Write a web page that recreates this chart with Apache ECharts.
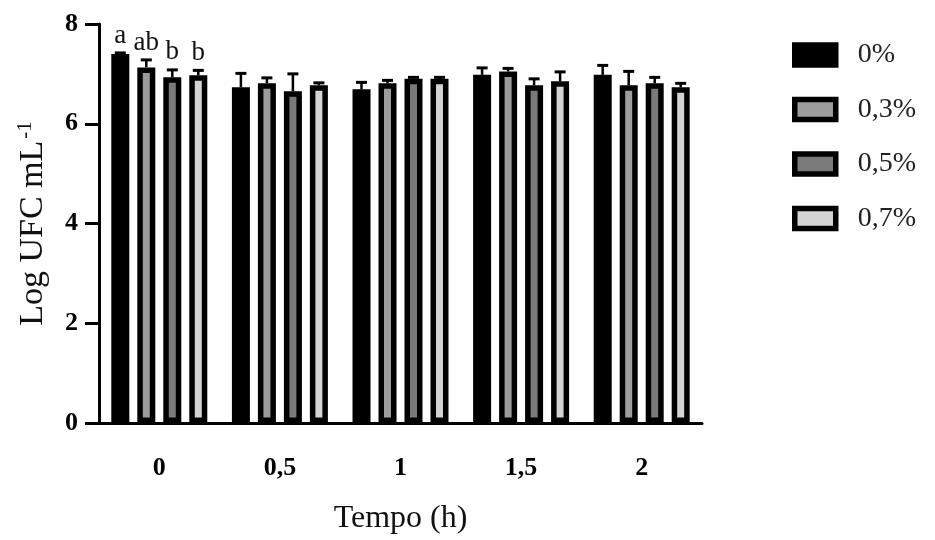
<!DOCTYPE html>
<html>
<head>
<meta charset="utf-8">
<script src="https://cdn.jsdelivr.net/npm/echarts@6/dist/echarts.min.js"></script>
<style>html,body{margin:0;padding:0;background:#fff}#c{width:935px;height:540px}</style>
</head>
<body>
<div id="c"></div>
<script>
var categories = ['0', '0,5', '1', '1,5', '2'];
var seriesNames = ['0%', '0,3%', '0,5%', '0,7%'];
var mean0  = [7.40, 6.73, 6.69, 6.98, 6.98];
var mean03 = [7.13, 6.81, 6.81, 7.05, 6.77];
var mean05 = [6.93, 6.65, 6.90, 6.77, 6.81];
var mean07 = [6.97, 6.77, 6.90, 6.85, 6.73];
var sd0  = [0.02, 0.28, 0.14, 0.14, 0.19];
var sd03 = [0.15, 0.11, 0.06, 0.06, 0.28];
var sd05 = [0.15, 0.35, 0.03, 0.13, 0.12];
var sd07 = [0.10, 0.05, 0.03, 0.19, 0.08];
var letters0 = ['a', 'ab', 'b', 'b'];
var yTicks = [0, 2, 4, 6, 8];

var means = [mean0, mean03, mean05, mean07];
var sds = [sd0, sd03, sd05, sd07];
var fills = ['#000000', '#9c9c9c', '#7a7a7a', '#d4d4d4'];
var FONT = 'Liberation Serif';
var BW = 18, PITCH = 26;

var series = [];
means.forEach(function (m, si) {
  series.push({
    name: seriesNames[si],
    type: 'bar',
    data: m,
    barWidth: BW,
    barGap: ((PITCH - BW) / BW * 100).toFixed(1) + '%',
    itemStyle: { color: fills[si], borderColor: '#000', borderWidth: 5.5 },
    z: 2
  });
});

var errData = [];
means.forEach(function (m, si) {
  m.forEach(function (v, ci) {
    errData.push([ci, v, sds[si][ci], si]);
  });
});

series.push({
  type: 'custom',
  data: errData,
  z: 5,
  silent: true,
  renderItem: function (params, api) {
    var ci = api.value(0), v = api.value(1), sd = api.value(2), si = api.value(3);
    var base = api.coord([ci, v]);
    var top = api.coord([ci, v + sd]);
    var x = base[0] + (si - 1.5) * PITCH;
    var children = [
      { type: 'line', shape: { x1: x, y1: base[1], x2: x, y2: top[1] }, style: { stroke: '#000', lineWidth: 2.5 } },
      { type: 'line', shape: { x1: x - 5.5, y1: top[1], x2: x + 5.5, y2: top[1] }, style: { stroke: '#000', lineWidth: 3 } }
    ];
    if (ci === 0) {
      children.push({ type: 'text', style: { text: letters0[si], x: x, y: top[1] - 4, align: 'center', verticalAlign: 'bottom', font: '27px "' + FONT + '"', fill: '#111' } });
    }
    return { type: 'group', children: children };
  }
});

var chart = echarts.init(document.getElementById('c'));
chart.setOption({
  animation: false,
  backgroundColor: '#fff',
  grid: { left: 99, top: 24, width: 603, height: 400, containLabel: false },
  legend: {
    orient: 'vertical',
    left: 787,
    top: 36,
    data: seriesNames,
    icon: 'rect',
    itemWidth: 41,
    itemHeight: 20,
    itemGap: 26.5,
    selectedMode: false,
    itemStyle: { borderWidth: 5.5, borderColor: '#000' },
    textStyle: { fontFamily: FONT, fontSize: 28, color: '#222', padding: [0, 0, 0, 17] }
  },
  xAxis: {
    type: 'category',
    data: categories,
    z: 6,
    axisLine: { lineStyle: { color: '#000', width: 3 } },
    axisTick: { alignWithLabel: true, length: 17, lineStyle: { color: '#000', width: 3 } },
    axisLabel: { fontFamily: FONT, fontWeight: 'bold', fontSize: 26, color: '#000', margin: 32 },
    name: 'Tempo (h)',
    nameLocation: 'middle',
    nameGap: 80,
    nameTextStyle: { fontFamily: FONT, fontSize: 32, color: '#111' }
  },
  yAxis: {
    type: 'value',
    min: 0,
    max: 8,
    interval: 2,
    z: 6,
    splitLine: { show: false },
    axisLine: { show: true, lineStyle: { color: '#000', width: 3 } },
    axisTick: { show: true, length: 14, lineStyle: { color: '#000', width: 3 } },
    axisLabel: { fontFamily: FONT, fontWeight: 'bold', fontSize: 26, color: '#000', margin: 21,
      formatter: function (v) { return yTicks.indexOf(v) >= 0 ? String(v) : ''; } },
    name: 'Log UFC mL{sup|-1}',
    nameLocation: 'middle',
    nameGap: 47,
    nameTextStyle: { fontFamily: FONT, fontSize: 34, color: '#111',
      rich: { sup: { fontFamily: FONT, fontSize: 21, color: '#111', verticalAlign: 'top', padding: [0, 0, 16, 2] } } }
  },
  series: series
});
</script>
</body>
</html>
